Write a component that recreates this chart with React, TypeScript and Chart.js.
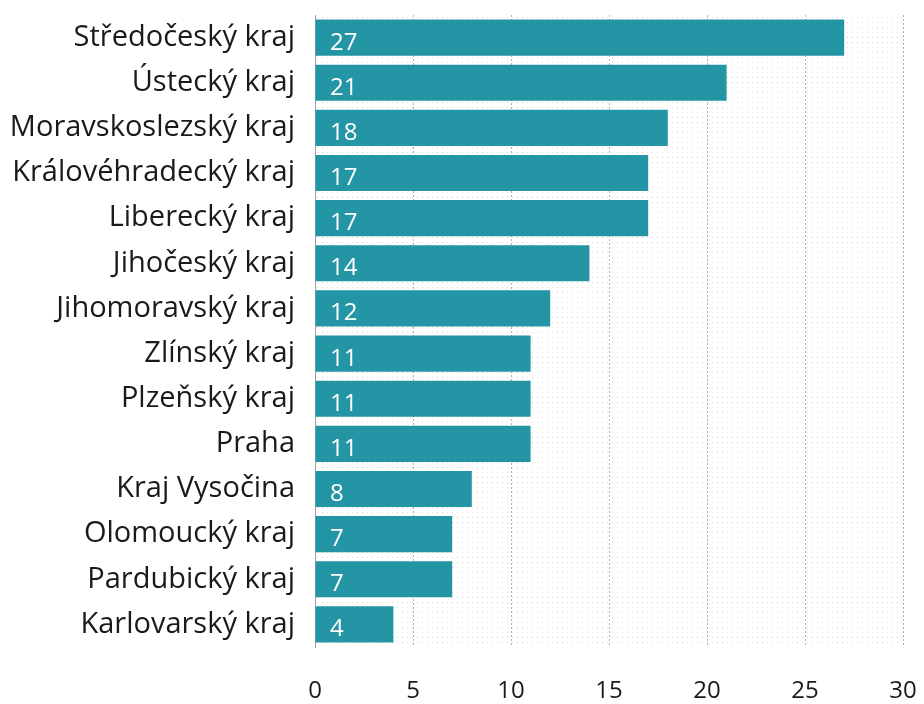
import React, { useEffect, useRef } from "react";
import { Chart, registerables } from "chart.js";

Chart.register(...registerables);

const categories = [
  "Středočeský kraj",
  "Ústecký kraj",
  "Moravskoslezský kraj",
  "Královéhradecký kraj",
  "Liberecký kraj",
  "Jihočeský kraj",
  "Jihomoravský kraj",
  "Zlínský kraj",
  "Plzeňský kraj",
  "Praha",
  "Kraj Vysočina",
  "Olomoucký kraj",
  "Pardubický kraj",
  "Karlovarský kraj",
];
const values = [27, 21, 18, 17, 17, 14, 12, 11, 11, 11, 8, 7, 7, 4];
const xTicks = [0, 5, 10, 15, 20, 25, 30];

const FONT = "'Open Sans', sans-serif";
const BAR = "#2495a4";

export default function App() {
  const ref = useRef<HTMLCanvasElement>(null);
  useEffect(() => {
    document.body.style.margin = "0";
    const pc = document.createElement("canvas");
    pc.width = 5;
    pc.height = 5;
    const pctx = pc.getContext("2d")!;
    pctx.fillStyle = "#ffffff";
    pctx.fillRect(0, 0, 5, 5);
    pctx.fillStyle = "#d8d8d8";
    pctx.fillRect(2, 2, 1, 1);

    const bgPlugin = {
      id: "bgdots",
      beforeDraw(chart: any) {
        const { ctx, chartArea } = chart;
        const pat = ctx.createPattern(pc, "repeat");
        ctx.save();
        ctx.fillStyle = pat;
        ctx.fillRect(chartArea.left, chartArea.top, chartArea.right - chartArea.left, chartArea.bottom - chartArea.top);
        ctx.restore();
      },
    };
    const labelPlugin = {
      id: "vals",
      afterDatasetsDraw(chart: any) {
        const { ctx } = chart;
        const meta = chart.getDatasetMeta(0);
        ctx.save();
        ctx.fillStyle = "#ffffff";
        ctx.font = `24px ${FONT}`;
        ctx.textAlign = "left";
        ctx.textBaseline = "alphabetic";
        meta.data.forEach((el: any, i: number) => {
          ctx.fillText(String(values[i]), chart.chartArea.left + 15, el.y + 12);
        });
        ctx.restore();
      },
    };

    const chart = new Chart(ref.current!, {
      type: "bar",
      data: {
        labels: categories,
        datasets: [
          {
            data: values,
            backgroundColor: BAR,
            borderWidth: 0,
            barPercentage: 0.8,
            categoryPercentage: 1,
          },
        ],
      },
      options: {
        indexAxis: "y",
        animation: false,
        responsive: false,
        layout: { padding: { top: 15, right: 21, left: 0, bottom: 0 } },
        plugins: { legend: { display: false }, tooltip: { enabled: false } },
        scales: {
          x: {
            min: 0,
            max: 30,
            afterBuildTicks: (s: any) => {
              s.ticks = xTicks.map((v) => ({ value: v }));
            },
            afterFit: (s: any) => {
              s.height = 57;
              s.paddingLeft = 0;
              s.paddingRight = 0;
            },
            grid: {
              color: (c: any) => (c.tick && c.tick.value === 0 ? "rgba(0,0,0,0)" : "#b0b0b0"),
              lineWidth: 1,
              drawTicks: false,
            },
            border: { display: false, dash: [2, 2] },
            ticks: {
              color: "#1a1a1a",
              font: { family: FONT, size: 24 },
              padding: 30,
            },
          },
          y: {
            afterFit: (s: any) => {
              s.width = 315;
              s.paddingTop = 0;
              s.paddingBottom = 0;
            },
            grid: { display: false, drawTicks: false },
            border: { display: true, color: "#a0a0a0", width: 1 },
            ticks: {
              color: "#1a1a1a",
              font: { family: FONT, size: 29 },
              padding: 20,
              autoSkip: false,
            },
          },
        },
      },
      plugins: [bgPlugin, labelPlugin],
    });
    return () => chart.destroy();
  }, []);
  return (
    <div style={{ width: 924, height: 704 }}>
      <canvas ref={ref} width={924} height={704} style={{ display: "block" }} />
    </div>
  );
}
